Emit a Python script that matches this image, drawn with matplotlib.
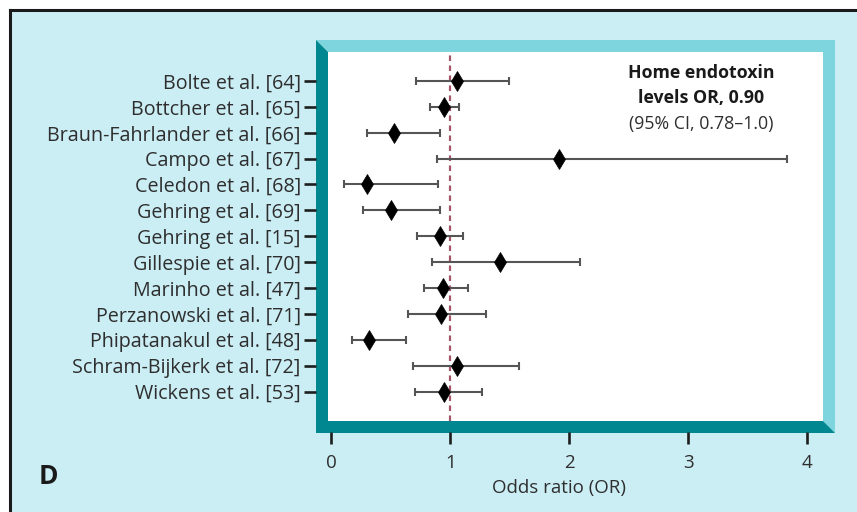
import matplotlib
matplotlib.use("Agg")
import matplotlib.pyplot as plt
from matplotlib.patches import Polygon, Rectangle
from matplotlib.lines import Line2D

# ---- data ----
studies = ["Bolte et al. [64]", "Bottcher et al. [65]", "Braun-Fahrlander et al. [66]",
           "Campo et al. [67]", "Celedon et al. [68]", "Gehring et al. [69]",
           "Gehring et al. [15]", "Gillespie et al. [70]", "Marinho et al. [47]",
           "Perzanowski et al. [71]", "Phipatanakul et al. [48]",
           "Schram-Bijkerk et al. [72]", "Wickens et al. [53]"]
odds_ratio = [1.06, 0.95, 0.53, 1.91, 0.30, 0.50, 0.91, 1.42, 0.94, 0.92, 0.315, 1.055, 0.95]
ci_low = [0.71, 0.83, 0.30, 0.89, 0.105, 0.27, 0.72, 0.845, 0.78, 0.645, 0.175, 0.69, 0.70]
ci_high = [1.49, 1.07, 0.91, 3.83, 0.90, 0.91, 1.11, 2.09, 1.15, 1.30, 0.63, 1.58, 1.27]
x_ticks = [0, 1, 2, 3, 4]
reference_or = 1.0
title_lines = ["Home endotoxin", "levels OR, 0.90"]
ci_text = "(95% CI, 0.78\u20131.0)"
panel_label = "D"
x_label = "Odds ratio (OR)"

W, H = 857, 512
BG = "#cbeef5"
LIGHT = "#7fd5de"
DARK = "#00878f"
TXT = "#2e2e2e"
FONT = "Open Sans"

plt.rcParams['font.family'] = [FONT, 'DejaVu Sans']

fig = plt.figure(figsize=(W / 100, H / 100), dpi=100, facecolor="white")

def fx(x):
    return x / W

def fy(y):
    return 1 - y / H

# background panel with top/left border
fig.patches.append(Rectangle((fx(9.5), 0), 1 - fx(9.5), fy(9.5), transform=fig.transFigure,
                             facecolor=BG, edgecolor="none", zorder=0))
fig.lines.append(Line2D([fx(9.5), 1], [fy(9.5), fy(9.5)], transform=fig.transFigure,
                        color="#1a1a1a", lw=2.2, zorder=1))
fig.lines.append(Line2D([fx(9.5), fx(9.5)], [fy(9.5), 0], transform=fig.transFigure,
                        color="#1a1a1a", lw=2.2, zorder=1))

# bevelled teal frame
ol, ot, orr, ob = 316, 40, 835, 433
il, it, ir, ib = 328, 52, 823, 421
light_pts = [(ol, ot), (orr, ot), (orr, ob), (ir, ib), (ir, it), (il, it)]
dark_pts = [(ol, ot), (il, it), (il, ib), (ir, ib), (orr, ob), (ol, ob)]
fig.patches.append(Polygon([(fx(a), fy(b)) for a, b in light_pts], closed=True,
                           transform=fig.transFigure, facecolor=LIGHT, edgecolor="none", zorder=1))
fig.patches.append(Polygon([(fx(a), fy(b)) for a, b in dark_pts], closed=True,
                           transform=fig.transFigure, facecolor=DARK, edgecolor="none", zorder=1))

# axes (white plotting area)
ax_l, ax_t, ax_r, ax_b = 327.7, 52, 823.3, 420.5
ax = fig.add_axes([fx(ax_l), fy(ax_b), (ax_r - ax_l) / W, (ax_b - ax_t) / H])
ax.set_facecolor("white")
ax.set_zorder(2)

n = len(studies)
ypos = list(range(n))

ax.axvline(reference_or, color="#a5566a", lw=1.6, ls=(0, (2.5, 2.0)), zorder=1)
ax.errorbar(odds_ratio, ypos, xerr=[[o - l for o, l in zip(odds_ratio, ci_low)],
                                    [h - o for o, h in zip(odds_ratio, ci_high)]],
            fmt="none", ecolor="#555555", elinewidth=1.5, capsize=3.2, capthick=1.5, zorder=2)
ax.plot(odds_ratio, ypos, linestyle="none", marker="d", markersize=10,
        markerfacecolor="black", markeredgecolor="black", markeredgewidth=0.5, zorder=3)

ax.set_xlim(-0.03, 4.135)
ax.set_ylim(13.12, -1.12)

for s in ax.spines.values():
    s.set_visible(False)
ax.spines['left'].set_position(('outward', 8.4))
ax.spines['bottom'].set_position(('outward', 8.6))

ax.set_yticks(ypos)
ax.set_yticklabels(studies)
ax.set_xticks(x_ticks)
ax.set_xticklabels([str(t) for t in x_ticks])
ax.tick_params(axis='y', length=8.5, width=1.9, color="#1e1e1e", pad=2.5,
               labelsize=14.2, labelcolor=TXT)
ax.tick_params(axis='x', length=8.5, width=1.9, color="#1e1e1e", pad=7,
               labelsize=13.5, labelcolor=TXT)
ax.set_xlabel(x_label, fontsize=13.5, color=TXT, labelpad=5, x=0.467)

# annotation
ax.text(0.753, 0.943, title_lines[0], transform=ax.transAxes, ha="center", va="center",
        fontsize=12.8, fontweight="bold", color="#1a1a1a")
ax.text(0.753, 0.874, title_lines[1], transform=ax.transAxes, ha="center", va="center",
        fontsize=12.8, fontweight="bold", color="#1a1a1a")
ax.text(0.753, 0.804, ci_text, transform=ax.transAxes, ha="center", va="center",
        fontsize=12.8, color=TXT)

fig.text(fx(39), fy(477), panel_label, ha="left", va="center", fontsize=19,
         fontweight="bold", color="#1a1a1a")

fig.savefig("out.png", dpi=100, facecolor=fig.get_facecolor())
